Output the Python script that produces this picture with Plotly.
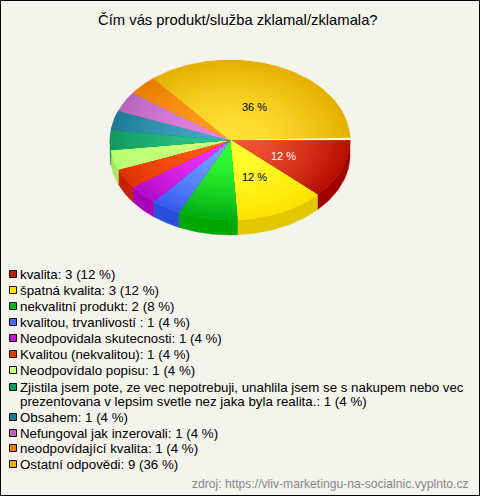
import math
import plotly.graph_objects as go

TITLE = "Čím vás produkt/služba zklamal/zklamala?"
SOURCE = "zdroj: https://vliv-marketingu-na-socialnic.vyplnto.cz"
categories = [
    "kvalita", "špatná kvalita", "nekvalitní produkt", "kvalitou, trvanlivostí ",
    "Neodpovidala skutecnosti", "Kvalitou (nekvalitou)", "Neodpovídalo popisu",
    "Zjistila jsem pote, ze vec nepotrebuji, unahlila jsem se s nakupem nebo vec<br>prezentovana v lepsim svetle nez jaka byla realita.",
    "Obsahem", "Nefungoval jak inzerovali", "neodpovídající kvalita", "Ostatní odpovědi",
]
counts = [3, 3, 2, 1, 1, 1, 1, 1, 1, 1, 1, 9]
percents = [12, 12, 8, 4, 4, 4, 4, 4, 4, 4, 4, 36]
inner_colors = ["#f25434", "#ffff30", "#34ff34", "#74a2ff", "#f034ff", "#ff5c14",
                "#ccff80", "#2cc484", "#44aac4", "#e484e4", "#ff9c24", "#ffe234"]
outer_colors = ["#b81000", "#ffe400", "#00ae10", "#3a5cf0", "#b40cc8", "#e03400",
                "#b8ff70", "#109a60", "#207a94", "#b868bc", "#e87e00", "#e6b000"]
side_colors = ["#a00000", "#e2c800", "#00a800", "#2a4edc", "#a800b8", "#c82000",
               "#a8e860", "#0a8850", "#186a80", "#a050a0", "#cc6e00", "#cc9a00"]
legend_colors = ["#c01a00", "#ffe800", "#00b818", "#4468f4", "#c010d0", "#e03c00",
                 "#c0ff78", "#109a60", "#207a94", "#c060c0", "#e87e00", "#e6b000"]
legend_rows = [274, 290, 306, 322, 338, 354, 370, 394, 417, 433, 448, 464]

CX, CY, RX, RY, DEPTH = 230, 140, 120, 80, 15
RINGS = 26
LINE_GAP = 14


def mix(c1, c2, t):
    a = [int(c1[i:i + 2], 16) for i in (1, 3, 5)]
    b = [int(c2[i:i + 2], 16) for i in (1, 3, 5)]
    return "#%02x%02x%02x" % tuple(round(p + (q - p) * t) for p, q in zip(a, b))


def arc(a0, a1, r=1.0, dy=0.0):
    n = max(2, int(abs(a1 - a0) / 1.5) + 2)
    out = []
    for i in range(n):
        a = math.radians(a0 + (a1 - a0) * i / (n - 1))
        out.append((CX + RX * r * math.cos(a), CY + dy + RY * r * math.sin(a)))
    return out


def poly(fig, pts, color, width=0.0):
    fig.add_trace(go.Scatter(x=[p[0] for p in pts] + [pts[0][0]],
                             y=[p[1] for p in pts] + [pts[0][1]],
                             mode="lines", fill="toself", fillcolor=color,
                             line=dict(width=width, color=color), hoverinfo="skip",
                             showlegend=False))


fig = go.Figure()
total = sum(percents)
spans = []
angle = 0.0
for p in percents:
    spans.append((angle, angle + 360.0 * p / total))
    angle += 360.0 * p / total

# side wall (front half only)
for (a0, a1), c in zip(spans, side_colors):
    lo, hi = max(a0, 0), min(a1, 180)
    if hi > lo:
        poly(fig, arc(lo, hi) + arc(hi, lo, dy=DEPTH), c, 0.4)

# top surface with radial shading
for (a0, a1), ci, co in zip(spans, inner_colors, outer_colors):
    poly(fig, [(CX, CY)] + arc(a0, a1), co, 0.4)
    for k in range(RINGS, 0, -1):
        r = k / RINGS
        t = ((k - 1) / (RINGS - 1)) ** 1.6
        poly(fig, [(CX, CY)] + arc(a0, a1, r), mix(ci, co, t))

# pale rim between the last and the first slice
poly(fig, [(CX, CY)] + arc(358.4, 360), "#fff6dc")

# percentage labels on the big slices
annotations = []
for (a0, a1), p, col in zip(spans, percents, ["white", "black"] + ["black"] * 10):
    if p >= 10:
        m = math.radians((a0 + a1) / 2)
        annotations.append(dict(x=CX + 0.48 * RX * math.cos(m), y=CY + 2 + 0.48 * RY * math.sin(m),
                                text=f"{p} %", showarrow=False, xanchor="center", yanchor="middle",
                                font=dict(size=11, color=col)))

# legend
for cat, n, p, y in zip(categories, counts, percents, legend_rows):
    lines = f"{cat}: {n} ({p} %)".split("<br>")
    top = y - LINE_GAP * (len(lines) - 1) / 2
    for i, line in enumerate(lines):
        annotations.append(dict(x=18.2, y=top + i * LINE_GAP, text=line, showarrow=False,
                                xanchor="left", yanchor="middle", align="left",
                                font=dict(size=13.3, color="#000000")))
marker_rows = [y - LINE_GAP / 2 if "<br>" in c else y for c, y in zip(categories, legend_rows)]
fig.add_trace(go.Scatter(x=[13] * len(marker_rows), y=marker_rows, mode="markers", hoverinfo="skip",
                         showlegend=False,
                         marker=dict(symbol="square", size=7, color=legend_colors,
                                     line=dict(width=1, color="#111111"))))

annotations.append(dict(x=238, y=20, text=TITLE, showarrow=False, xanchor="center", yanchor="middle",
                        font=dict(size=14.8, color="#000000")))
annotations.append(dict(x=470.5, y=484, text=SOURCE, showarrow=False, xanchor="right", yanchor="middle",
                        font=dict(size=12.15, color="#888888")))

fig.update_layout(
    width=480, height=496, margin=dict(l=0, r=0, t=0, b=0),
    paper_bgcolor="#f4f4ec", plot_bgcolor="#f4f4ec",
    font=dict(family="Liberation Sans, Arial, sans-serif"),
    xaxis=dict(range=[0, 480], visible=False, fixedrange=True),
    yaxis=dict(range=[496, 0], visible=False, fixedrange=True),
    annotations=annotations, showlegend=False,
    shapes=[dict(type="rect", x0=0.5, y0=0.5, x1=479.5, y1=495.5, line=dict(color="black", width=1))],
)
fig.write_html("out.html", config={"displayModeBar": False},
               post_script="document.body.style.margin='0';")
